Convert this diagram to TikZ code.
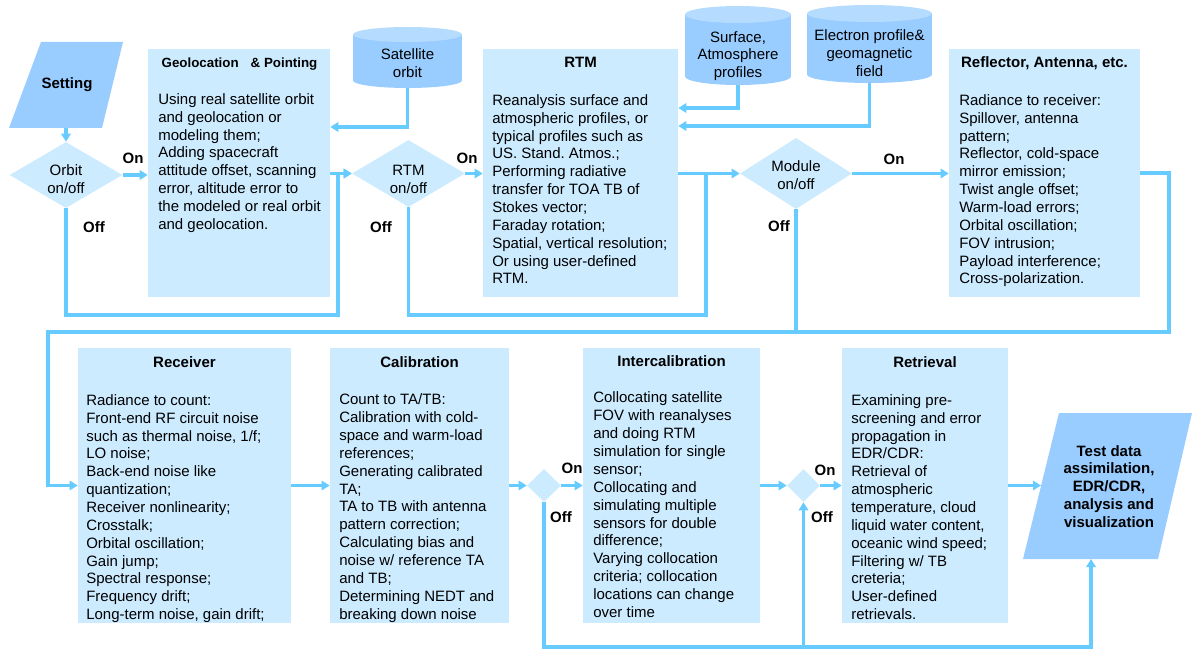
\documentclass[tikz,border=0pt]{standalone}
\usepackage{fontspec}
\setmainfont{Liberation Sans}
\usetikzlibrary{shapes.geometric,arrows.meta,fit}
\definecolor{boxfill}{HTML}{CCEBFF}
\definecolor{darkfill}{HTML}{99CCFF}
\definecolor{capfill}{HTML}{B5DBFF}
\definecolor{linec}{HTML}{66CCFF}
\frenchspacing
\tikzset{
  txt/.style={font=\fontsize{11.25}{13.4}\selectfont, inner sep=0pt},
  boldtxt/.style={font=\fontsize{11.25}{13.4}\selectfont\bfseries, inner sep=0pt},
  procbox/.style={fill=boxfill, inner sep=0pt},
  iobox/.style={inner sep=0pt},
  cylbox/.style={inner sep=0pt},
  decision/.style={diamond, fill=boxfill, aspect=1.7, inner sep=0pt},
  bodytxt/.style={txt, align=left, anchor=north west},
  titletxt/.style={boldtxt, anchor=base},
  flow/.style={draw=linec, line width=2.4pt},
  arr/.style={flow, -{Triangle[length=6pt,width=7pt]}},
}
\begin{document}
\frenchspacing
\begin{tikzpicture}[x=0.75pt,y=-0.75pt]
\useasboundingbox (0,0) rectangle (1192,649);

% ---------- parallelograms ----------
\fill[darkfill] (41,42) -- (123,42) -- (102,128) -- (9,128) -- cycle;
\node[iobox, fit={(9,42) (123,128)}] (setting) {};
\node[boldtxt] (settingl) at (67,85) {Setting};
\fill[darkfill] (1059,413) -- (1192,413) -- (1158,559) -- (1023,559) -- cycle;
\node[iobox, fit={(1023,413) (1192,559)}] (test) {};
\node[boldtxt, align=center] (testl) at (1109,486.5) {Test data\\assimilation,\\EDR/CDR,\\analysis and\\visualization};
\coordinate (testw) at (1041,485.5);
\coordinate (tests) at (1091,559);

% ---------- cylinders ----------
\fill[darkfill] (353,34.5) rectangle (462,80.5);
\fill[darkfill] (407.5,80.5) ellipse [x radius=54.5, y radius=7.5];
\fill[capfill] (407.5,34.5) ellipse [x radius=54.5, y radius=7.5];
\node[cylbox, fit={(353,27) (462,88)}] (sat) {};
\node[txt, align=center] (satl) at (407.5,63) {Satellite\\orbit};

\fill[darkfill] (685,14.5) rectangle (791,76.5);
\fill[darkfill] (738,76.5) ellipse [x radius=53, y radius=8.5];
\fill[capfill] (738,14.5) ellipse [x radius=53, y radius=8.5];
\node[cylbox, fit={(685,6) (791,85)}] (surf) {};
\node[txt, align=center] (surfl) at (738,56) {Surface,\\Atmosphere\\profiles};

\fill[darkfill] (807,13.5) rectangle (932,74.5);
\fill[darkfill] (869.5,74.5) ellipse [x radius=62.5, y radius=8.5];
\fill[capfill] (869.5,13.5) ellipse [x radius=62.5, y radius=8.5];
\node[cylbox, fit={(807,5) (932,83)}] (elec) {};
\node[txt, align=center] (elecl) at (869.5,53.5) {Electron profile\&\\geomagnetic\\field};

% ---------- process boxes ----------
\node[procbox, fit={(148,49) (330,297)}] (geo) {};
\node[procbox, fit={(483,49) (678,297)}] (rtm) {};
\node[procbox, fit={(949,49) (1140,297)}] (refl) {};
\node[procbox, fit={(78,348) (291,623)}] (recv) {};
\node[procbox, fit={(330,348) (509,623)}] (cal) {};
\node[procbox, fit={(583,348) (760,623)}] (ical) {};
\node[procbox, fit={(842,348) (1008,623)}] (retr) {};

% ---------- decisions ----------
\node[decision, minimum width=113*0.75pt, minimum height=66*0.75pt] (orbit) at (66,175) {};
\node[txt, align=center] (orbitl) at (66,179.5) {Orbit\\on/off};
\node[decision, minimum width=113*0.75pt, minimum height=67*0.75pt] (rtmd) at (408.5,173.5) {};
\node[txt, align=center] (rtmdl) at (408.5,179) {RTM\\on/off};
\node[decision, minimum width=112*0.75pt, minimum height=71*0.75pt] (modd) at (796,173.5) {};
\node[txt, align=center] (moddl) at (796,175.5) {Module\\on/off};
\node[decision, aspect=1, minimum width=34*0.75pt, minimum height=33*0.75pt] (d1) at (544,485.5) {};
\node[decision, aspect=1, minimum width=33*0.75pt, minimum height=33*0.75pt] (d2) at (803.5,485.5) {};

% ---------- helper coordinates ----------
\coordinate (off1) at (338,315);
\coordinate (off2) at (706,315);
\coordinate (r1) at (1169,332);
\coordinate (r2) at (48,332);
\coordinate (b1) at (803.5,647);

% ---------- connectors ----------
\draw[arr] (setting.south) -- (orbit.north);
\draw[arr] (orbit.east) -- (orbit.east -| geo.west);
\draw[arr] (orbit.south) |- (off1) |- (rtmd.west);
\draw[arr] (geo.east |- rtmd.west) -- (rtmd.west);
\draw[arr] (sat.south) |- (geo.east |- 0,127);
\draw[arr] (rtmd.east) -- (rtmd.east -| rtm.west);
\draw[flow] (rtmd.south) |- (off2) -- (off2 |- modd.west);
\draw[arr] (rtm.east |- modd.west) -- (modd.west);
\draw[arr] (surf.south) |- (rtm.east |- 0,108);
\draw[arr] (elec.south) |- (rtm.east |- 0,126);
\draw[arr] (modd.east) -- (modd.east -| refl.west);
\draw[flow] (modd.south) -- (modd.south |- r1);
\draw[arr] (refl.east) -| (r1) -- (r2) |- (recv.west);
\draw[arr] (recv.east) -- (recv.east -| cal.west);
\draw[arr] (cal.east) -- (d1.west);
\draw[arr] (d1.east) -- (d1.east -| ical.west);
\draw[arr] (ical.east) -- (d2.west);
\draw[arr] (d2.east) -- (d2.east -| retr.west);
\draw[arr] (retr.east) -- (testw);
\draw[arr] (d1.south) |- (b1) -- (d2.south);
\draw[arr] (b1) -| (tests);

% ---------- On / Off labels ----------
\node[boldtxt] (on1) at (133,158) {On};
\node[boldtxt] (of1) at (94,227) {Off};
\node[boldtxt] (on2) at (467,158) {On};
\node[boldtxt] (of2) at (381,227) {Off};
\node[boldtxt] (on3) at (894,159) {On};
\node[boldtxt] (of3) at (779,226) {Off};
\node[boldtxt] (on4) at (572,468) {On};
\node[boldtxt] (of4) at (561,517) {Off};
\node[boldtxt] (on5) at (825,470) {On};
\node[boldtxt] (of5) at (822,517) {Off};

% ---------- titles ----------
\node[titletxt, font=\fontsize{10}{12}\selectfont\bfseries] (geot) at (239.5,67.5) {Geolocation\hspace{9pt}\&~Pointing};
\node[titletxt] (rtmt) at (580.5,67.5) {RTM};
\node[titletxt] (reflt) at (1044.5,68) {Reflector, Antenna, etc.};
\node[titletxt] (recvt) at (184.5,367.7) {Receiver};
\node[titletxt] (calt) at (419.5,367.7) {Calibration};
\node[titletxt] (icalt) at (671.5,366.7) {Intercalibration};
\node[titletxt] (retrt) at (925,367.7) {Retrieval};

% ---------- bodies ----------
\node[bodytxt] (geob) at (158,92) {\rule{0pt}{9pt}Using real satellite orbit\\and geolocation or\\modeling them;\\Adding spacecraft\\attitude offset, scanning\\error, altitude error to\\the modeled or real orbit\\and geolocation.};
\node[bodytxt] (rtmb) at (492,93) {\rule{0pt}{9pt}Reanalysis surface and\\atmospheric profiles, or\\typical profiles such as\\US. Stand. Atmos.;\\Performing radiative\\transfer for TOA TB of\\Stokes vector;\\Faraday rotation;\\Spatial, vertical resolution;\\Or using user-defined\\RTM.};
\node[bodytxt] (reflb) at (959,93) {\rule{0pt}{9pt}Radiance to receiver:\\Spillover, antenna\\pattern;\\Reflector, cold-space\\mirror emission;\\Twist angle offset;\\Warm-load errors;\\Orbital oscillation;\\FOV intrusion;\\Payload interference;\\Cross-polarization.};
\node[bodytxt] (recvb) at (86,393) {\rule{0pt}{9pt}Radiance to count:\\Front-end RF circuit noise\\such as thermal noise, 1/f;\\LO noise;\\Back-end noise like\\quantization;\\Receiver nonlinearity;\\Crosstalk;\\Orbital oscillation;\\Gain jump;\\Spectral response;\\Frequency drift;\\Long-term noise, gain drift;};
\node[bodytxt] (calb) at (339,392.5) {\rule{0pt}{9pt}Count to TA/TB:\\Calibration with cold-\\space and warm-load\\references;\\Generating calibrated\\TA;\\TA to TB with antenna\\pattern correction;\\Calculating bias and\\noise w/ reference TA\\and TB;\\Determining NEDT and\\breaking down noise};
\node[bodytxt] (icalb) at (593,390.7) {\rule{0pt}{9pt}Collocating satellite\\FOV with reanalyses\\and doing RTM\\simulation for single\\sensor;\\Collocating and\\simulating multiple\\sensors for double\\difference;\\Varying collocation\\criteria; collocation\\locations can change\\over time};
\node[bodytxt] (retrb) at (851,393) {\rule{0pt}{9pt}Examining pre-\\screening and error\\propagation in\\EDR/CDR:\\Retrieval of\\atmospheric\\temperature, cloud\\liquid water content,\\oceanic wind speed;\\Filtering w/ TB\\creteria;\\User-defined\\retrievals.};
\end{tikzpicture}
\end{document}
